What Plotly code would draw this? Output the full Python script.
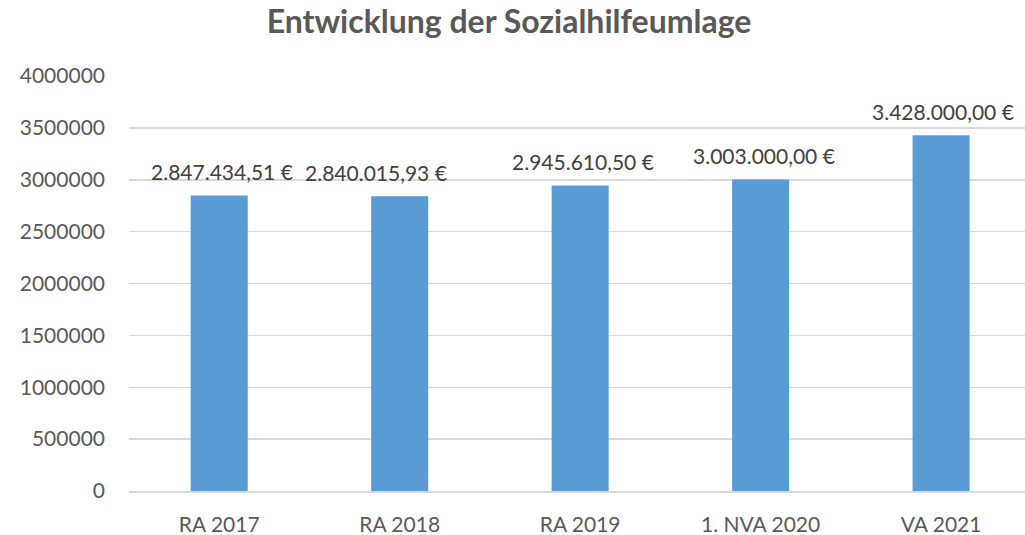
import plotly.graph_objects as go

categories = ["RA 2017", "RA 2018", "RA 2019", "1. NVA 2020", "VA 2021"]
values = [2847434.51, 2840015.93, 2945610.50, 3003000.00, 3428000.00]
value_labels = ["2.847.434,51 €", "2.840.015,93 €", "2.945.610,50 €", "3.003.000,00 €", "3.428.000,00 €"]
y_tickvals = [0, 500000, 1000000, 1500000, 2000000, 2500000, 3000000, 3500000, 4000000]
y_ticktext = ["0", "500000", "1000000", "1500000", "2000000", "2500000", "3000000", "3500000", "4000000"]

label_xshift = [3, -24, 3, 3, 2]

FONT = "Lato"

fig = go.Figure()
fig.add_trace(go.Bar(
    x=list(range(len(categories))),
    y=values,
    width=0.316,
    marker=dict(color="#5B9BD5", line=dict(width=0)),
    hoverinfo="skip",
))

for i, (v, t) in enumerate(zip(values, value_labels)):
    fig.add_annotation(
        x=i, y=v, text=t, showarrow=False,
        xref="x", yref="y",
        yanchor="middle", yshift=24, xshift=label_xshift[i],
        font=dict(family=FONT, size=21, color="#404040"),
    )

fig.update_layout(
    width=1025, height=535,
    margin=dict(l=129, r=0, t=76, b=44),
    paper_bgcolor="white", plot_bgcolor="white",
    showlegend=False,
    title=dict(
        text="<b>Entwicklung der Sozialhilfeumlage</b>",
        x=0.4966, xanchor="center", y=0.9589, yanchor="middle",
        font=dict(family=FONT, size=32, color="#595959"),
        automargin=False,
    ),
    xaxis=dict(
        tickmode="array",
        tickvals=list(range(len(categories))),
        ticktext=categories,
        range=[-0.5, 4.465],
        showgrid=False, zeroline=False,
        showline=True, linecolor="#d9d9d9", linewidth=1.5,
        ticks="", ticklabelstandoff=14,
        tickfont=dict(family=FONT, size=21, color="#595959"),
        automargin=False,
        fixedrange=True,
    ),
    yaxis=dict(
        range=[0, 4000000],
        tickmode="array",
        tickvals=y_tickvals,
        ticktext=y_ticktext,
        showgrid=True, gridcolor="#d9d9d9", gridwidth=1.5,
        zeroline=False, showline=False,
        ticks="", ticklabelstandoff=23,
        tickfont=dict(family=FONT, size=21, color="#595959"),
        automargin=False,
        fixedrange=True,
    ),
)

fig.write_html(
    "out.html",
    config={"displayModeBar": False, "staticPlot": True},
    post_script="document.body.style.margin='0';document.body.style.overflow='hidden';",
)
